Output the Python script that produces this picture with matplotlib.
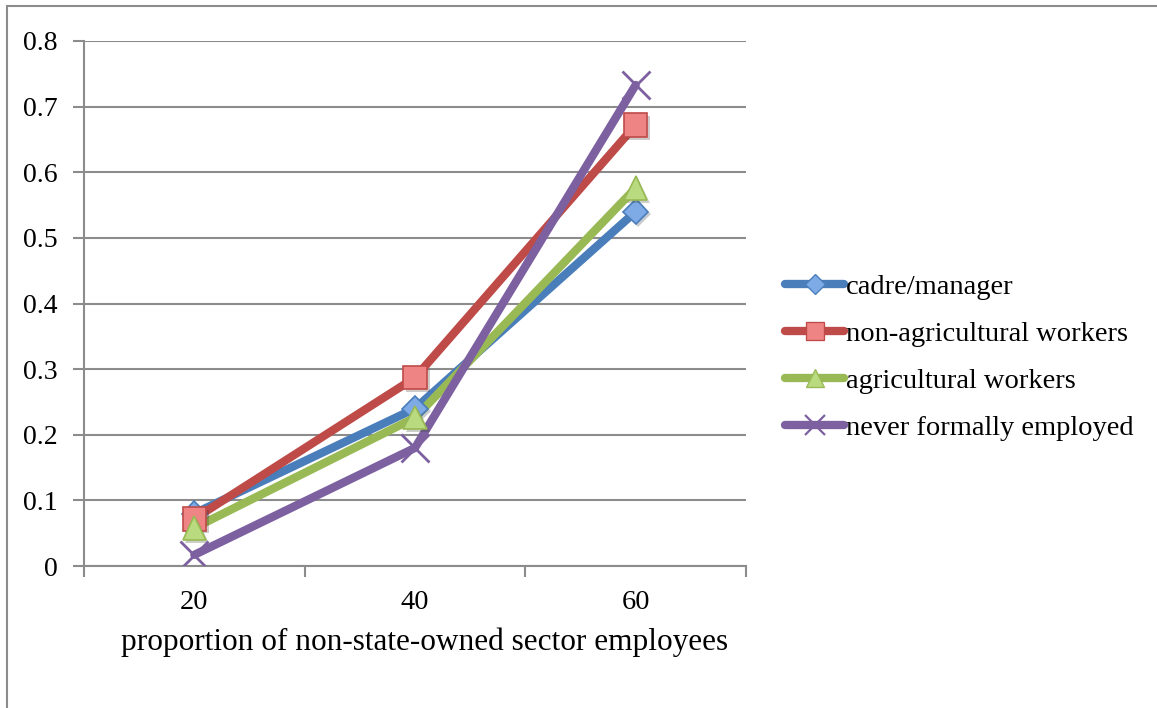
import numpy as np
import matplotlib.pyplot as plt
import matplotlib.patheffects as pe
from matplotlib.lines import Line2D
from matplotlib.patches import Rectangle

plt.rcParams['font.family'] = ['Liberation Serif', 'DejaVu Serif']

categories = ['20', '40', '60']
cadre = [0.08, 0.24, 0.54]
non_agri = [0.072, 0.287, 0.672]
agri = [0.058, 0.226, 0.576]
never_employed = [0.017, 0.18, 0.733]

series = [
    ('cadre/manager', cadre, '#4A7EBB', 'D', '#7EAAE6', 13),
    ('non-agricultural workers', non_agri, '#BE4B48', 's', '#EE8584', 17),
    ('agricultural workers', agri, '#98B954', '^', '#B9DA7E', 17),
    ('never formally employed', never_employed, '#7D60A0', 'x', '#7D60A0', 20),
]

fig = plt.figure(figsize=(11.57, 7.08), dpi=100)
# outer chart border
fig.patches.append(Rectangle((7 / 1157, -0.1), 1.2, (708 - 6) / 708 + 0.1,
                             transform=fig.transFigure, fill=False,
                             edgecolor='#8c8c8c', linewidth=1.5))

ax = fig.add_axes([84 / 1157, 1 - 566 / 708, (746 - 84) / 1157, (566 - 41) / 708])
x = np.arange(len(categories))

shadow = [pe.SimplePatchShadow(offset=(2, -2), alpha=0.25), pe.Normal()]
handles = []
for label, vals, color, marker, face, ms in series:
    ax.plot(x, vals, color=color, linewidth=6, solid_capstyle='round',
            solid_joinstyle='round', zorder=3)
    mew = 2.0 if marker == 'x' else 1.2
    ax.plot(x, vals, linestyle='none', marker=marker, markersize=ms,
            markerfacecolor=face, markeredgecolor=color, markeredgewidth=mew,
            zorder=4, path_effects=shadow)
    handles.append(Line2D([], [], color=color, linewidth=6,
                          solid_capstyle='round', marker=marker,
                          markersize=ms * 0.75, markerfacecolor=face,
                          markeredgecolor=color, markeredgewidth=mew * 0.8))

ax.set_xlim(-0.5, 2.5)
ax.set_ylim(0, 0.8)
ax.set_yticks(np.arange(0, 0.81, 0.1))
ax.set_yticklabels(['0', '0.1', '0.2', '0.3', '0.4', '0.5', '0.6', '0.7', '0.8'])
ax.set_xticks(x)
ax.set_xticklabels(categories)
ax.set_xticks([-0.5, 0.5, 1.5, 2.5], minor=True)
ax.tick_params(axis='x', which='major', length=0, pad=17, labelsize=20.5)
ax.tick_params(axis='x', which='minor', length=8, width=1.5, color='#8c8c8c')
ax.tick_params(axis='y', length=8, width=1.5, color='#8c8c8c', pad=11, labelsize=20)
ax.grid(axis='y', color='#8c8c8c', linewidth=1.5)
ax.set_axisbelow(True)
for side in ['top', 'right']:
    ax.spines[side].set_visible(False)
for side in ['left', 'bottom']:
    ax.spines[side].set_color('#8c8c8c')
    ax.spines[side].set_linewidth(1.5)

ax.set_xlabel('proportion of non-state-owned sector employees', fontsize=22.5,
              labelpad=9)
ax.xaxis.label.set_x(0.515)

fig.legend(handles, [s[0] for s in series], loc='center left',
           bbox_to_anchor=(759 / 1157, 1 - 358 / 708), frameon=False,
           fontsize=20.5, handlelength=2.1, handletextpad=0.05, labelspacing=0.74)

fig.savefig('out.png', dpi=100)
